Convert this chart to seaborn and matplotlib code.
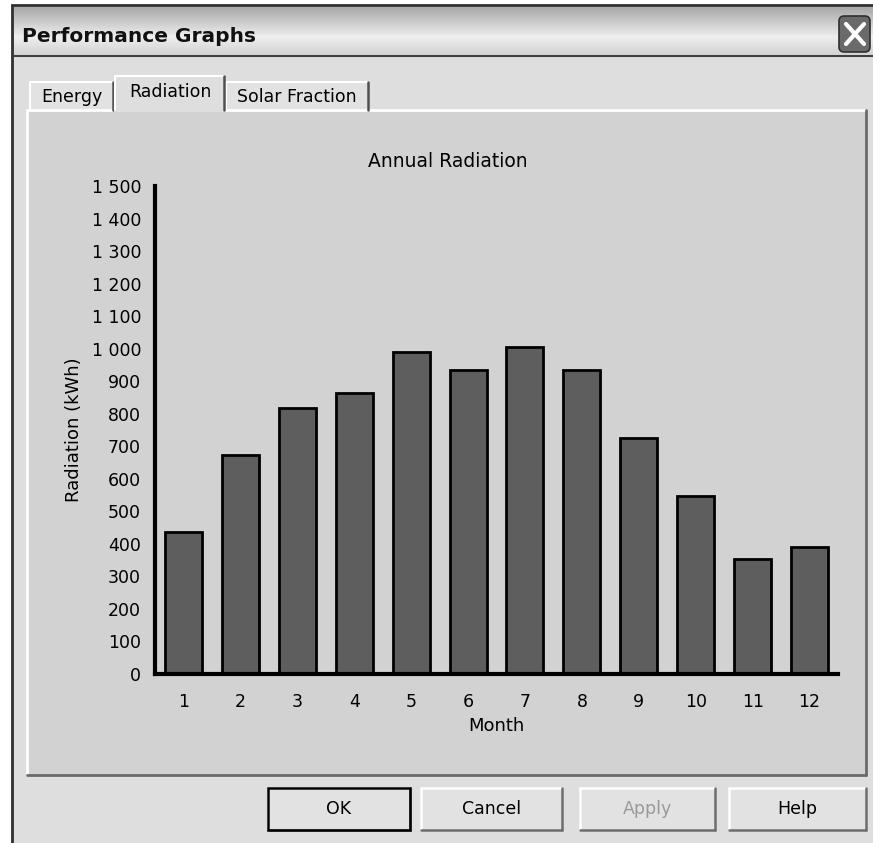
import numpy as np
import pandas as pd
import seaborn as sns
import matplotlib.pyplot as plt
from matplotlib.patches import Rectangle, FancyBboxPatch
from matplotlib.ticker import FuncFormatter

months = [str(m) for m in range(1, 13)]
radiation = [437, 672, 819, 865, 991, 934, 1005, 934, 726, 547, 354, 390]
y_ticks = list(range(0, 1600, 100))

W, H = 873, 843


def fx(x):
    return x / W


def fy(y):
    return 1 - y / H


def box(fig, x0, y0, x1, y1, zorder=-5, **kw):
    r = Rectangle((fx(x0), fy(y1)), fx(x1) - fx(x0), fy(y0) - fy(y1),
                  transform=fig.transFigure, zorder=zorder, **kw)
    fig.add_artist(r)
    return r


def line(fig, xs, ys, zorder=-4, **kw):
    fig.add_artist(plt.Line2D([fx(x) for x in xs], [fy(y) for y in ys],
                              transform=fig.transFigure, zorder=zorder, **kw))


def bevel(fig, x0, y0, x1, y1, light='white', dark='#7a7a7a', lw=1.5):
    line(fig, [x0, x1], [y0, y0], color=light, lw=lw)
    line(fig, [x0, x0], [y0, y1], color=light, lw=lw)
    line(fig, [x1, x1], [y0, y1], color=dark, lw=lw)
    line(fig, [x0, x1], [y1, y1], color=dark, lw=lw)


def button(fig, x0, y0, x1, y1, label, color='black', default=False):
    box(fig, x0, y0, x1, y1, facecolor='#e2e2e2', edgecolor='none')
    bevel(fig, x0, y0, x1, y1, light='white', dark='#6e6e6e', lw=1.8)
    if default:
        box(fig, x0, y0, x1, y1, facecolor='none', edgecolor='black', lw=1.8,
            zorder=-3)
    fig.text(fx((x0 + x1) / 2), fy((y0 + y1) / 2), label, ha='center',
             va='center', fontsize=12.5, color=color)


sns.set_style('white')
plt.rcParams['font.family'] = ['DejaVu Sans']
plt.rcParams['text.color'] = 'black'
plt.rcParams['axes.labelcolor'] = 'black'
plt.rcParams['xtick.labelcolor'] = 'black'
plt.rcParams['ytick.labelcolor'] = 'black'

fig = plt.figure(figsize=(W / 100, H / 100), dpi=100)
fig.patch.set_facecolor('white')

# dialog body
box(fig, 12, 5, 880, 850, facecolor='#dedede', edgecolor='#303030', lw=2,
    zorder=-10)

# title bar with gradient
tb = fig.add_axes([fx(14), fy(55), fx(873) - fx(14), fy(7) - fy(55)])
grad = np.concatenate([np.linspace(0.66, 0.93, 30), np.linspace(0.93, 0.82, 18)])
tb.imshow(grad[:, None] * np.ones((1, 10)), aspect='auto', cmap='gray',
          vmin=0, vmax=1, extent=[0, 1, 0, 1])
tb.axis('off')
line(fig, [14, 873], [56, 56], color='#404040', lw=1.5)
fig.text(fx(22), fy(36), 'Performance Graphs', fontsize=14.5,
         fontweight='bold', va='center', ha='left', color='#111111', zorder=5)
fig.add_artist(FancyBboxPatch((fx(839), fy(52)), fx(31), fy(16) - fy(52),
                              boxstyle='round,pad=0,rounding_size=0.006',
                              transform=fig.transFigure, zorder=5,
                              facecolor='#6a6a6a', edgecolor='#303030', lw=1.2))
line(fig, [846, 864], [24, 44], color='white', lw=3, zorder=6)
line(fig, [846, 864], [44, 24], color='white', lw=3, zorder=6)

# tab panel and chart area
box(fig, 27, 110, 866, 775, facecolor='#d2d2d2', edgecolor='none')
bevel(fig, 27, 110, 866, 775, light='white', dark='#6a6a6a', lw=2)

# tabs
for (x0, x1, y0, label) in [(30, 113, 82, 'Energy'),
                            (226, 368, 82, 'Solar Fraction')]:
    box(fig, x0, y0, x1, 110, facecolor='#e2e2e2', edgecolor='none')
    line(fig, [x0, x0, x1], [110, y0, y0], color='white', lw=1.5)
    line(fig, [x1, x1], [y0, 110], color='#505050', lw=1.8)
    fig.text(fx((x0 + x1) / 2), fy(97), label, ha='center', va='center',
             fontsize=12.5)
box(fig, 115, 76, 224, 112, facecolor='#dedede', edgecolor='none', zorder=-3)
line(fig, [115, 115, 224], [110, 76, 76], color='white', lw=1.5, zorder=-2)
line(fig, [224, 224], [76, 110], color='#505050', lw=1.8, zorder=-2)
fig.text(fx(170), fy(92), 'Radiation', ha='center', va='center', fontsize=12.5)

# buttons
button(fig, 268, 788, 410, 830, 'OK', default=True)
button(fig, 421, 788, 562, 830, 'Cancel')
button(fig, 580, 788, 715, 830, 'Apply', color='#9a9a9a')
button(fig, 729, 788, 866, 830, 'Help')

# chart
df = pd.DataFrame({'Month': months, 'Radiation': radiation})
ax = fig.add_axes([fx(155), fy(674), fx(838) - fx(155), fy(186) - fy(674)])
ax.set_zorder(2)
ax.set_facecolor('none')
sns.barplot(data=df, x='Month', y='Radiation', ax=ax, color='#5e5e5e',
            saturation=1, width=0.65, edgecolor='black', linewidth=2)
ax.set_xlim(-0.5, 11.5)
ax.set_ylim(0, 1500)
ax.set_yticks(y_ticks)
ax.yaxis.set_major_formatter(FuncFormatter(lambda v, p: f'{int(v):,}'.replace(',', ' ')))
for s in ['top', 'right']:
    ax.spines[s].set_visible(False)
for s in ['left', 'bottom']:
    ax.spines[s].set_linewidth(3)
    ax.spines[s].set_color('black')
ax.tick_params(axis='y', length=6, width=1.2, color='#555555',
               labelsize=12.5, direction='out', pad=4)
ax.tick_params(axis='x', length=6, width=1.2, color='#555555',
               labelsize=12.5, direction='out', pad=8)
ax.set_xlabel('Month', fontsize=13, labelpad=4)
ax.set_ylabel('Radiation (kWh)', fontsize=13, labelpad=6)
ax.set_title('Annual Radiation', fontsize=13.5, pad=14, x=0.428)

fig.savefig('out.png', dpi=100)
